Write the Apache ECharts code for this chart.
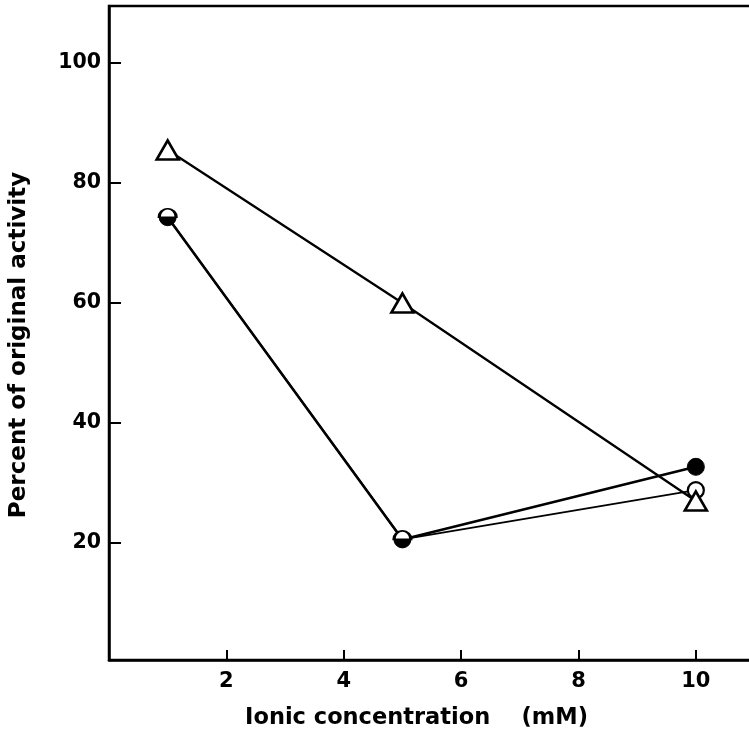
<!DOCTYPE html>
<html>
<head>
<meta charset="utf-8">
<script src="https://cdn.jsdelivr.net/npm/echarts@6/dist/echarts.min.js"></script>
<style>
html,body{margin:0;padding:0;background:#fff;}
#chart{width:749px;height:734px;}
</style>
</head>
<body>
<div id="chart"></div>
<script>
// Data
const xValues = [1, 5, 10];
const triangleValues = [85.5, 60, 27];
const filledCircleValues = [74.3, 20.6, 32.7];
const openCircleValues = [74.3, 20.6, 28.8];
const xTickLabels = [2, 4, 6, 8, 10];
const yTickLabels = [20, 40, 60, 80, 100];
const xTitle = 'Ionic concentration    (mM)';
const yTitle = 'Percent of original activity';

const FONT = 'DejaVu Sans';
const topHalfDisc = 'path://M0,10 A10,10 0 0 1 20,10 Z';

const chart = echarts.init(document.getElementById('chart'), null, {renderer: 'canvas'});

const pairs = (vals) => xValues.map((x, i) => [x, vals[i]]);

// open circles: where they coincide with filled circles, show top white half only
const openData = xValues.map((x, i) => {
  const same = openCircleValues[i] === filledCircleValues[i];
  if (same) {
    return {value: [x, openCircleValues[i]], symbol: topHalfDisc, symbolSize: [17, 8.5], symbolOffset: [0, -4.25]};
  }
  return {value: [x, openCircleValues[i]]};
});

chart.setOption({
  animation: false,
  backgroundColor: '#fff',
  grid: {
    left: 109, right: -29, top: 6, bottom: 74,
    outerBoundsMode: 'none', containLabel: false,
    show: true, borderColor: '#000', borderWidth: 2.5, backgroundColor: 'transparent'
  },
  xAxis: {
    type: 'value', min: 0, max: 11.4,
    axisLine: {show: true, onZero: false, lineStyle: {color: '#000', width: 2.5}},
    axisTick: {show: true, inside: true, length: 10, lineStyle: {color: '#000', width: 2}, customValues: xTickLabels},
    axisLabel: {show: true, color: '#000', fontFamily: FONT, fontWeight: 'bold', fontSize: 21, margin: 11, customValues: xTickLabels},
    splitLine: {show: false},
    name: xTitle, nameLocation: 'middle', nameGap: 47,
    nameTextStyle: {color: '#000', fontFamily: FONT, fontWeight: 'bold', fontSize: 22.5, padding: [0, 54, 0, 0]}
  },
  yAxis: {
    type: 'value', min: 0.5, max: 109.5,
    axisLine: {show: true, onZero: false, lineStyle: {color: '#000', width: 2.5}},
    axisTick: {show: true, inside: true, length: 12, lineStyle: {color: '#000', width: 2}, customValues: yTickLabels},
    axisLabel: {show: true, color: '#000', fontFamily: FONT, fontWeight: 'bold', fontSize: 20.5, margin: 8, customValues: yTickLabels},
    splitLine: {show: false},
    name: yTitle, nameLocation: 'middle', nameGap: 78,
    nameTextStyle: {color: '#000', fontFamily: FONT, fontWeight: 'bold', fontSize: 23, padding: [0, 24, 0, 0]}
  },
  series: [
    {
      type: 'line', data: pairs(filledCircleValues),
      symbol: 'circle', symbolSize: 17,
      itemStyle: {color: '#000', borderColor: '#000', borderWidth: 1},
      lineStyle: {color: '#000', width: 2.6}, z: 2
    },
    {
      type: 'line', data: openData,
      symbol: 'circle', symbolSize: 16,
      itemStyle: {color: '#fff', borderColor: '#000', borderWidth: 2.2},
      lineStyle: {color: '#000', width: 1.8}, z: 3
    },
    {
      type: 'line', data: pairs(triangleValues),
      symbol: 'triangle', symbolSize: [22, 19],
      itemStyle: {color: '#fff', borderColor: '#000', borderWidth: 2.6},
      lineStyle: {color: '#000', width: 2.3}, z: 4
    }
  ]
});
</script>
</body>
</html>
